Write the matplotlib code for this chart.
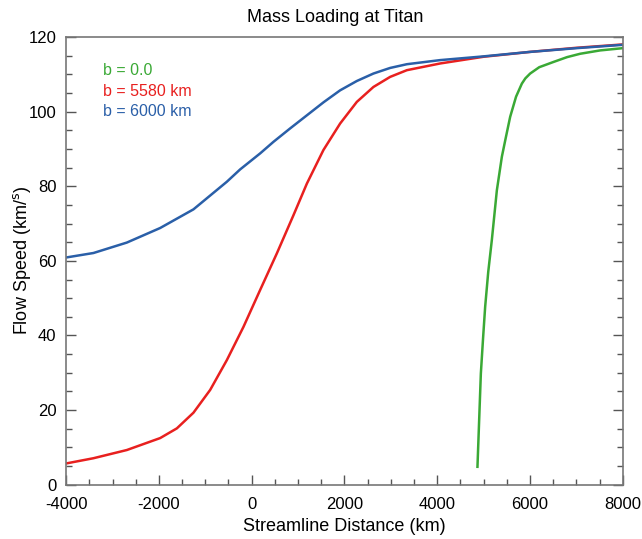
import numpy as np
import matplotlib
matplotlib.use("Agg")
import matplotlib.pyplot as plt
from matplotlib.ticker import MultipleLocator

plt.rcParams['font.family'] = ['Liberation Sans', 'DejaVu Sans']
plt.rcParams['axes.unicode_minus'] = False

# Curves (streamline distance km, flow speed km/s)
x_b0 = [4868, 4905, 4941, 4990, 5034, 5100, 5178, 5230, 5286, 5394, 5470, 5573,
        5700, 5825, 5900, 6004, 6200, 6506, 6800, 7082, 7513, 8000]
v_b0 = [4.8, 17.5, 29.8, 39.5, 47.7, 57.0, 65.6, 72.0, 78.9, 87.9, 92.5, 98.6,
        104.0, 107.5, 108.9, 110.2, 111.9, 113.3, 114.6, 115.5, 116.4, 117.0]

x_b5580 = [-4000, -3411, -2691, -1973, -1613, -1255, -895, -535, -177, 183, 543,
           900, 1190, 1547, 1907, 2267, 2625, 2985, 3346, 4064, 5000, 6000,
           7000, 8000]
v_b5580 = [5.7, 7.1, 9.3, 12.5, 15.1, 19.3, 25.4, 33.4, 42.3, 52.2, 62.0,
           72.2, 80.7, 89.7, 96.8, 102.6, 106.6, 109.3, 111.1, 112.9, 114.7, 116.0,
           117.1, 118.0]

x_b6000 = [-4000, -3411, -2691, -1973, -1255, -895, -535, -249, 183, 470, 830,
           1190, 1550, 1907, 2267, 2625, 2985, 3346, 4064, 5000, 6000, 7000, 8000]
v_b6000 = [60.9, 62.1, 64.9, 68.8, 73.8, 77.5, 81.2, 84.5, 88.8, 91.9, 95.5,
           99.0, 102.5, 105.7, 108.2, 110.2, 111.7, 112.7, 113.8, 114.8, 116.0,
           117.0, 117.9]

labels = ['b = 0.0', 'b = 5580 km', 'b = 6000 km']
colors = ['#3aa935', '#e8201f', '#2a5fa8']

fig = plt.figure(figsize=(6.42, 5.39), dpi=100)
ax = fig.add_axes([0.103, 0.1007, 0.867, 0.8307])

ax.plot(x_b0, v_b0, color=colors[0], lw=1.8)
ax.plot(x_b5580, v_b5580, color=colors[1], lw=1.8)
ax.plot(x_b6000, v_b6000, color=colors[2], lw=1.8)

ax.set_xlim(-4000, 8000)
ax.set_ylim(0, 120)
ax.xaxis.set_major_locator(MultipleLocator(2000))
ax.xaxis.set_minor_locator(MultipleLocator(500))
ax.yaxis.set_major_locator(MultipleLocator(20))
ax.yaxis.set_minor_locator(MultipleLocator(5))
ax.tick_params(which='both', direction='in', color='#555555', labelsize=12,
               left=True, right=True, top=False, bottom=True)
ax.tick_params(axis='x', which='both', pad=9)
ax.tick_params(axis='y', which='both', pad=7)
ax.tick_params(which='major', length=7, width=1)
ax.tick_params(which='minor', length=4, width=1)
for s in ax.spines.values():
    s.set_color('#777777')
    s.set_linewidth(1.2)

ypos = [0.926, 0.879, 0.833]
for lab, c, yy in zip(labels, colors, ypos):
    ax.text(0.066, yy, lab, color=c, fontsize=11.5,
            transform=ax.transAxes, va='center', ha='left')

fig.text(335 / 642, 1 - 17 / 539, 'Mass Loading at Titan', fontsize=13,
         ha='center', va='center')
ax.set_xlabel('Streamline Distance (km)', fontsize=13)
ax.xaxis.set_label_coords(0.5, -0.074)
ax.set_ylabel(r'Flow Speed (km/$^{\mathrm{s}}$)', fontsize=13)
ax.yaxis.set_label_coords(-0.06, 0.5)

fig.savefig('out.png', dpi=100)
